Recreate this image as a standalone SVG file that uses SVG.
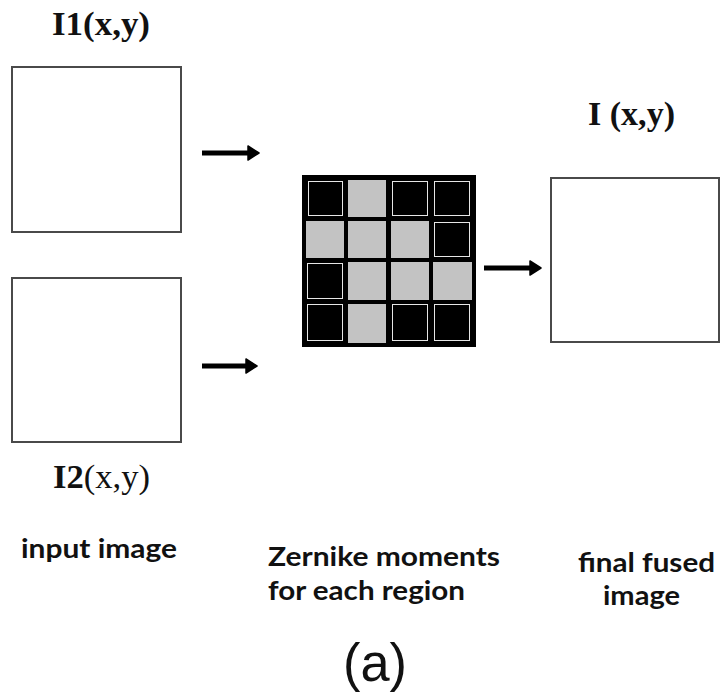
<svg xmlns="http://www.w3.org/2000/svg" width="720" height="694" viewBox="0 0 720 694">
  <defs>
    <marker id="head" markerUnits="userSpaceOnUse" markerWidth="12" markerHeight="16" refX="0" refY="7" orient="auto" overflow="visible">
      <path d="M0,0 L11,7 L0,14 Z" fill="#000" stroke="#000" stroke-width="1.5" stroke-linejoin="round"/>
    </marker>
  </defs>
  <style>
    .box { fill: #fff; stroke: #4a4a4a; stroke-width: 2; }
    .serif { font-family: "Liberation Serif", "Times New Roman", serif; font-size: 34px; fill: #111; }
    .sans { font-family: Lato, "Open Sans", sans-serif; font-weight: bold; font-size: 27px; fill: #111; }
    .arrow { stroke: #000; stroke-width: 5; fill: none; marker-end: url(#head); }
    .blk { fill: #000; stroke: #e6e6e6; stroke-width: 1; }
    .gry { fill: #c3c3c3; }
  </style>
  <rect width="720" height="694" fill="#fff"/>

  <g id="input1">
    <text class="serif" x="52" y="35" font-weight="bold" textLength="98" lengthAdjust="spacingAndGlyphs">I1(x,y)</text>
    <rect class="box" x="12" y="67" width="169" height="165"/>
  </g>

  <g id="input2">
    <rect class="box" x="12" y="278" width="169" height="164"/>
    <text class="serif" x="53" y="488" textLength="97" lengthAdjust="spacingAndGlyphs"><tspan font-weight="bold">I2</tspan>(x,y)</text>
  </g>

  <g id="zernike-grid">
    <rect x="302" y="175" width="174" height="172" fill="#000"/>
    <!-- row 1 -->
    <rect class="blk" x="308.5" y="181.5" width="34" height="34"/>
    <rect class="gry" x="348" y="180" width="38" height="37"/>
    <rect class="blk" x="392.5" y="181.5" width="35" height="34"/>
    <rect class="blk" x="434.5" y="181.5" width="35" height="34"/>
    <!-- row 2 -->
    <rect class="gry" x="306" y="221" width="38" height="37"/>
    <rect class="gry" x="348" y="221" width="38" height="37"/>
    <rect class="gry" x="391" y="221" width="38" height="37"/>
    <rect class="blk" x="434.5" y="222.5" width="35" height="34"/>
    <!-- row 3 -->
    <rect class="blk" x="307.5" y="263.5" width="35" height="35"/>
    <rect class="gry" x="348" y="262" width="38" height="38"/>
    <rect class="gry" x="391" y="262" width="38" height="38"/>
    <rect class="gry" x="433" y="262" width="39" height="38"/>
    <!-- row 4 -->
    <rect class="blk" x="307.5" y="304.5" width="35" height="36"/>
    <rect class="gry" x="348" y="304" width="38" height="39"/>
    <rect class="blk" x="392.5" y="304.5" width="35" height="36"/>
    <rect class="blk" x="434.5" y="304.5" width="35" height="36"/>
  </g>

  <g id="output">
    <text class="serif" x="588" y="125" font-weight="bold" textLength="87" lengthAdjust="spacingAndGlyphs">I (x,y)</text>
    <rect class="box" x="551" y="178" width="168" height="164"/>
  </g>

  <g id="connectors">
    <line class="arrow" x1="202" y1="153" x2="248" y2="153"/>
    <line class="arrow" x1="202" y1="366" x2="246" y2="366"/>
    <line class="arrow" x1="484" y1="268" x2="530" y2="268"/>
  </g>

  <g id="labels">
    <text class="sans" x="21" y="558" textLength="156" lengthAdjust="spacingAndGlyphs">input image</text>
    <text class="sans" x="268" y="566" textLength="232" lengthAdjust="spacingAndGlyphs">Zernike moments</text>
    <text class="sans" x="268" y="600" textLength="197" lengthAdjust="spacingAndGlyphs">for each region</text>
    <text class="sans" x="578" y="572" textLength="137" lengthAdjust="spacingAndGlyphs">final fused</text>
    <text class="sans" x="603" y="605" textLength="77" lengthAdjust="spacingAndGlyphs">image</text>
    <text x="343" y="681" font-family="Liberation Sans, Arial, sans-serif" font-size="54" fill="#111" textLength="64" lengthAdjust="spacingAndGlyphs">(a)</text>
  </g>
</svg>
